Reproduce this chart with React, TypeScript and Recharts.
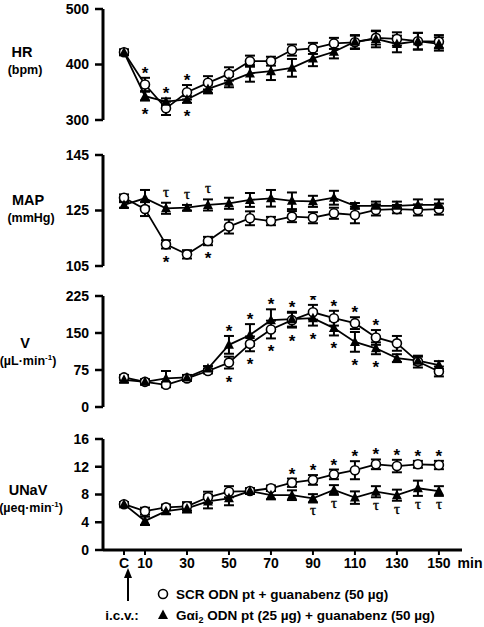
import React from 'react';
import { ComposedChart, Line, XAxis, YAxis, ErrorBar, Scatter } from 'recharts';

// ── Data ─────────────────────────────────────────────────
const times = [0, 10, 20, 30, 40, 50, 60, 70, 80, 90, 100, 110, 120, 130, 140, 150];
const xTicks = [0, 10, 30, 50, 70, 90, 110, 130, 150];

// HR (bpm)
const hrScr = [422, 364, 321, 350, 367, 383, 406, 406, 426, 429, 438, 440, 448, 446, 442, 441];
const hrScrSe = [5, 12, 12, 13, 12, 12, 10, 8, 10, 10, 10, 12, 12, 12, 15, 12];
const hrGai = [422, 343, 333, 337, 356, 369, 384, 388, 394, 411, 423, 441, 446, 437, 442, 437];
const hrGaiSe = [5, 8, 6, 6, 8, 10, 15, 16, 16, 14, 12, 12, 15, 15, 15, 12];

// MAP (mmHg)
const mapScr = [129.6, 125.5, 112.8, 109.2, 114, 119.2, 122.2, 121.2, 122.8, 122.4, 124, 123.4, 125.2, 125.5, 125.2, 125.5];
const mapScrSe = [1.2, 2.5, 1.5, 1.5, 1.5, 2.5, 2.5, 1.5, 2, 2, 2, 3, 2, 1.5, 2, 2];
const mapGai = [127, 129.4, 125.8, 126, 127, 127.6, 128.8, 129.4, 128.5, 128.3, 129.6, 126.7, 126.7, 126.7, 127, 127];
const mapGaiSe = [1, 3, 2, 1, 2, 2, 2.5, 3, 3, 2, 2.5, 1, 1.5, 1.5, 2, 2];

// V (µL/min)
const vScr = [60, 51, 45, 58, 73, 90, 128, 157, 176, 192, 180, 170, 141, 129, 92, 72];
const vScrSe = [5, 5, 5, 5, 5, 12, 15, 18, 15, 15, 15, 12, 15, 15, 12, 10];
const vGai = [55, 51, 58, 60, 78, 126, 146, 176, 178, 180, 160, 132, 119, 99, 94, 85];
const vGaiSe = [5, 5, 15, 5, 5, 18, 22, 22, 15, 15, 15, 20, 12, 8, 8, 8];

// UNaV (µeq/min)
const unavScr = [6.6, 5.6, 6.15, 6.3, 7.6, 8.4, 8.5, 8.9, 9.7, 10.1, 10.9, 11.5, 12.35, 12.1, 12.35, 12.25];
const unavScrSe = [0.3, 0.5, 0.4, 0.6, 0.8, 0.8, 0.4, 0.4, 0.6, 0.7, 0.7, 1.3, 0.7, 0.9, 0.5, 0.6];
const unavGai = [6.6, 4.2, 5.6, 6.0, 7.0, 7.45, 8.5, 7.9, 7.9, 7.45, 8.65, 7.55, 8.4, 7.9, 8.9, 8.5];
const unavGaiSe = [0.3, 0.6, 0.4, 0.6, 1.0, 1.0, 0.4, 0.6, 0.7, 0.6, 0.7, 0.9, 0.8, 0.8, 1.1, 0.7];

// significance marks: time points with a symbol above / below the pair
const hrAbove = [10, 20, 30];
const hrBelow = [10, 20, 30];
const mapAbove = [20, 30, 40];
const mapBelow = [20, 30, 40];
const vAbove = [50, 60, 70, 80, 90, 100, 110, 120];
const vBelow = [50, 60, 70, 80, 90, 100, 110, 120];
const unavAbove = [80, 90, 100, 110, 120, 130, 140, 150];
const unavBelow = [90, 100, 120, 130, 140, 150];

// ── Helpers ──────────────────────────────────────────────
const FONT = 'Arial, "Liberation Sans", sans-serif';
const PAD = 20; // room above/below each plot for the marks

function rows(scr: number[], scrSe: number[], gai: number[], gaiSe: number[]) {
  return times.map((t, i) => ({ t, scr: scr[i], scrSe: scrSe[i], gai: gai[i], gaiSe: gaiSe[i] }));
}

function marks(data: any[], above: number[], aboveSym: string, below: number[], belowSym: string) {
  const out: any[] = [];
  above.forEach((t) => {
    const r = data.find((d) => d.t === t);
    out.push({ t, y: Math.max(r.scr + r.scrSe, r.gai + r.gaiSe), sym: aboveSym, pos: 'above' });
  });
  below.forEach((t) => {
    const r = data.find((d) => d.t === t);
    out.push({ t, y: Math.min(r.scr - r.scrSe, r.gai - r.gaiSe), sym: belowSym, pos: 'below' });
  });
  return out;
}

const MarkShape = (props: any) => {
  const { cx, cy, payload } = props;
  if (payload.sym === 'τ') {
    const y = payload.pos === 'above' ? cy - 6 : cy + 13;
    return (
      <text
        x={cx}
        y={y}
        textAnchor="middle"
        fontFamily='"Liberation Serif", "Times New Roman", serif'
        fontSize={15}
        fill="#000"
        stroke="#000"
        strokeWidth={0.4}
      >
        τ
      </text>
    );
  }
  const y = payload.pos === 'above' ? cy + 1 : cy + 19;
  return (
    <text x={cx} y={y} textAnchor="middle" fontFamily={FONT} fontWeight="bold" fontSize={17} fill="#000">
      *
    </text>
  );
};

const TriangleDot = (props: any) => {
  const { cx, cy, index } = props;
  if (cx == null || cy == null) return null;
  return (
    <polygon
      key={`tri-${index}`}
      points={`${cx},${cy - 5.5} ${cx + 5},${cy + 4} ${cx - 5},${cy + 4}`}
      fill="#000"
    />
  );
};

const tickStyle = { fill: '#000', fontSize: 14, fontWeight: 'bold' as const, fontFamily: FONT };

interface PanelProps {
  top: number;
  data: any[];
  markData: any[];
  domain: [number, number];
  ticks: number[];
  showX?: boolean;
}

function Panel({ top, data, markData, domain, ticks, showX }: PanelProps) {
  const plotH = 111;
  const height = PAD + plotH + (showX ? 30 : PAD);
  return (
    <div style={{ position: 'absolute', left: 0, top: top - PAD }}>
      <ComposedChart
        width={484}
        height={height}
        data={data}
        margin={{ top: PAD, right: 22, bottom: showX ? 0 : PAD, left: 0 }}
      >
        <XAxis
          dataKey="t"
          type="number"
          domain={[-10, 161]}
          ticks={xTicks}
          hide={!showX}
          height={30}
          tickFormatter={(v: number) => (v === 0 ? 'C' : String(v))}
          axisLine={{ stroke: '#000', strokeWidth: 3 }}
          tickLine={{ stroke: '#000', strokeWidth: 2 }}
          tickSize={5}
          tickMargin={3}
          tick={tickStyle}
          allowDataOverflow
        />
        <YAxis
          type="number"
          domain={domain}
          ticks={ticks}
          width={103}
          interval={0}
          axisLine={{ stroke: '#000', strokeWidth: 3 }}
          tickLine={{ stroke: '#000', strokeWidth: 2.5 }}
          tickSize={8}
          tickMargin={6}
          tick={tickStyle}
          allowDataOverflow
        />
        <Line
          dataKey="scr"
          stroke="#000"
          strokeWidth={1.8}
          dot={{ r: 4.5, fill: '#fff', stroke: '#000', strokeWidth: 1.6 }}
          isAnimationActive={false}
        >
          <ErrorBar dataKey="scrSe" width={5} stroke="#000" strokeWidth={2} direction="y" />
        </Line>
        <Line
          dataKey="gai"
          stroke="#000"
          strokeWidth={1.8}
          dot={TriangleDot}
          isAnimationActive={false}
        >
          <ErrorBar dataKey="gaiSe" width={5} stroke="#000" strokeWidth={2} direction="y" />
        </Line>
        <Scatter data={markData} dataKey="y" shape={MarkShape} isAnimationActive={false} />
      </ComposedChart>
    </div>
  );
}

function Title({ x, y, name, unit }: { x: number; y: number; name: string; unit: React.ReactNode }) {
  return (
    <g fontFamily={FONT} fontWeight="bold" textAnchor="middle" fill="#000">
      <text x={x} y={y} fontSize={14.5}>{name}</text>
      <text x={x + 3} y={y + 17} fontSize={12.5}>{unit}</text>
    </g>
  );
}

// ── App ──────────────────────────────────────────────────
export default function App() {
  const hrData = rows(hrScr, hrScrSe, hrGai, hrGaiSe);
  const mapData = rows(mapScr, mapScrSe, mapGai, mapGaiSe);
  const vData = rows(vScr, vScrSe, vGai, vGaiSe);
  const unavData = rows(unavScr, unavScrSe, unavGai, unavGaiSe);

  return (
    <div style={{ position: 'absolute', left: 0, top: 0, width: 484, height: 627, background: '#fff' }}>
      <Panel top={9} data={hrData} markData={marks(hrData, hrAbove, '*', hrBelow, '*')} domain={[300, 500]} ticks={[300, 400, 500]} />
      <Panel top={155} data={mapData} markData={marks(mapData, mapAbove, 'τ', mapBelow, '*')} domain={[105, 145]} ticks={[105, 125, 145]} />
      <Panel top={296} data={vData} markData={marks(vData, vAbove, '*', vBelow, '*')} domain={[0, 225]} ticks={[0, 75, 150, 225]} />
      <Panel top={439} data={unavData} markData={marks(unavData, unavAbove, '*', unavBelow, 'τ')} domain={[0, 16]} ticks={[0, 4, 8, 12, 16]} showX />

      <svg width={484} height={627} style={{ position: 'absolute', left: 0, top: 0, pointerEvents: 'none' }}>
        <Title x={22} y={57} name="HR" unit="(bpm)" />
        <Title x={28} y={205} name="MAP" unit="(mmHg)" />
        <Title x={25} y={348} name="V" unit={<>(µL·min<tspan fontSize={8} dy={-5}>-1</tspan><tspan dy={5}>)</tspan></>} />
        <Title x={28} y={495} name="UNaV" unit={<>(µeq·min<tspan fontSize={8} dy={-5}>-1</tspan><tspan dy={5}>)</tspan></>} />

        <text x={470} y={568} fontFamily={FONT} fontWeight="bold" fontSize={14} textAnchor="middle">min</text>

        {/* i.c.v. arrow under C */}
        <line x1={128} y1={601} x2={128} y2={576} stroke="#000" strokeWidth={2} />
        <polygon points="128,568 124,578 132,578" fill="#000" />
        <text x={122} y={620} fontFamily={FONT} fontWeight="bold" fontSize={13.5} textAnchor="middle">i.c.v.:</text>

        {/* legend */}
        <circle cx={163} cy={594} r={4.5} fill="#fff" stroke="#000" strokeWidth={1.6} />
        <text x={176} y={599} fontFamily={FONT} fontWeight="bold" fontSize={13.5}>SCR ODN pt  + guanabenz (50 µg)</text>
        <polygon points="163,609.5 168,619 158,619" fill="#000" />
        <text x={176} y={620} fontFamily={FONT} fontWeight="bold" fontSize={13.5}>
          Gαi<tspan fontSize={9} dy={3}>2</tspan><tspan dy={-3}> ODN pt (25 µg) + guanabenz (50 µg)</tspan>
        </text>
      </svg>
    </div>
  );
}
